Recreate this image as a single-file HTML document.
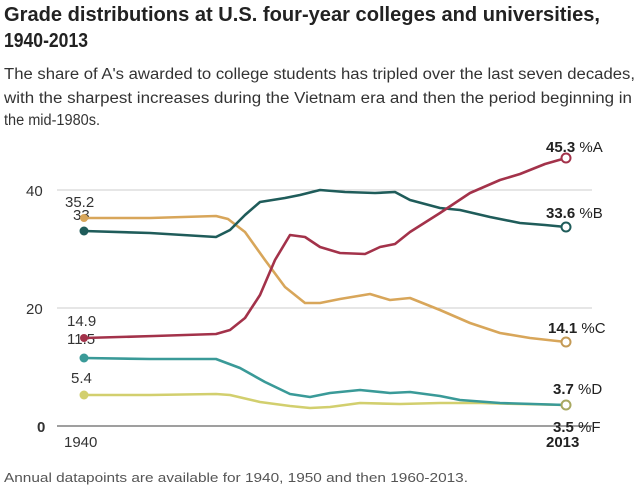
<!DOCTYPE html>
<html><head><meta charset="utf-8"><style>
html,body{margin:0;padding:0;background:#fff;}
svg{display:block;font-family:"Liberation Sans",sans-serif;}
</style></head><body>
<svg width="640" height="496" viewBox="0 0 640 496" xmlns="http://www.w3.org/2000/svg">
<rect width="640" height="496" fill="#fff"/>
<text x="4" y="21" font-size="20" font-weight="bold" fill="#222" textLength="596" lengthAdjust="spacingAndGlyphs">Grade distributions at U.S. four-year colleges and universities,</text>
<text x="4" y="47" font-size="20" font-weight="bold" fill="#222" textLength="84" lengthAdjust="spacingAndGlyphs">1940-2013</text>
<text x="4" y="79" font-size="15.5" fill="#333" textLength="631" lengthAdjust="spacingAndGlyphs">The share of A's awarded to college students has tripled over the last seven decades,</text>
<text x="4" y="103" font-size="15.5" fill="#333" textLength="628" lengthAdjust="spacingAndGlyphs">with the sharpest increases during the Vietnam era and then the period beginning in</text>
<text x="4" y="125" font-size="15.5" fill="#333" textLength="96" lengthAdjust="spacingAndGlyphs">the mid-1980s.</text>

<g stroke="#ccc" stroke-width="1">
<line x1="57" y1="190" x2="592" y2="190"/>
<line x1="57" y1="308" x2="592" y2="308"/>
</g>
<line x1="57" y1="426" x2="592" y2="426" stroke="#666" stroke-width="1.2"/>
<g font-size="15" fill="#333">
<text x="26" y="196">40</text>
<text x="26" y="314">20</text>
<text x="37" y="432" font-weight="bold">0</text>
<text x="64" y="447">1940</text>
<text x="65" y="207">35.2</text>
<text x="73" y="220">33</text>
<text x="67" y="326">14.9</text>
<text x="67" y="344">11.5</text>
<text x="71" y="383">5.4</text>
</g>
<g font-size="15" fill="#222">
<text x="546" y="152"><tspan font-weight="bold">45.3</tspan> %A</text>
<text x="546" y="218"><tspan font-weight="bold">33.6</tspan> %B</text>
<text x="548" y="333"><tspan font-weight="bold">14.1</tspan> %C</text>
<text x="553" y="394"><tspan font-weight="bold">3.7</tspan> %D</text>
<text x="553" y="432"><tspan font-weight="bold">3.5</tspan> %F</text>
<text x="546" y="447" font-weight="bold">2013</text>
</g>
<g fill="none" stroke-width="2.6" stroke-linejoin="round" stroke-linecap="round">
<polyline stroke="#d8a65a" points="84,218 150,218 216,216 228,219 245,232 265,260 285,287 305,303 320,303 340,299 370,294 390,300 410,298 440,310 470,323 500,333 530,338 566,342"/>
<polyline stroke="#1f5c5a" points="84,231 150,233 216,237 230,230 245,215 260,202 285,198 300,195 320,190 345,192 375,193 395,192 410,200 440,208 460,210 490,217 520,223 545,225 566,227"/>
<polyline stroke="#a3324a" points="84,338 154,336 216,334 230,330 245,318 260,295 275,260 290,235 305,237 320,247 340,253 365,254 380,247 395,244 410,232 440,213 470,193 500,180 520,174 545,164 566,158"/>
<polyline stroke="#d2cf6e" points="84,395 150,395 216,394 230,395 260,402 290,406 310,408 330,407 360,403 400,404 440,403 480,403 566,405"/>
<polyline stroke="#3a9a98" points="84,358 150,359 216,359 240,368 265,382 290,394 310,397 330,393 360,390 390,393 410,392 440,396 460,400 500,403 566,405"/>
</g>
<circle cx="84" cy="218" r="4" fill="#d8a65a"/>
<circle cx="84" cy="231" r="4.5" fill="#1f5c5a"/>
<circle cx="84" cy="338" r="4" fill="#a3324a"/>
<circle cx="84" cy="358" r="4.5" fill="#3a9a98"/>
<circle cx="84" cy="395" r="4.5" fill="#d2cf6e"/>
<g fill="#fff" stroke-width="2">
<circle cx="566" cy="158" r="4.5" stroke="#a3324a"/>
<circle cx="566" cy="227" r="4.5" stroke="#1f5c5a"/>
<circle cx="566" cy="342" r="4.5" stroke="#c49a55"/>
<circle cx="566" cy="405" r="4.5" stroke="#a8a860"/>
</g>
<text x="4" y="482" font-size="13" fill="#555" textLength="464" lengthAdjust="spacingAndGlyphs">Annual datapoints are available for 1940, 1950 and then 1960-2013.</text>
</svg>
</body></html>
